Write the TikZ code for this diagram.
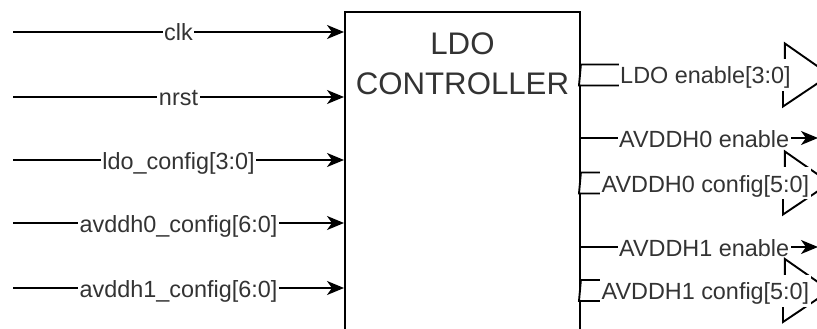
\documentclass[tikz,border=0pt]{standalone}
\usepackage{fontspec}
\setmainfont{Liberation Sans}
\usetikzlibrary{arrows.meta,calc}
\begin{document}
\begin{tikzpicture}[x=1pt,y=-1pt,
  wire/.style={line width=1.9pt, draw=black},
  sig/.style={wire, -{Stealth[length=17pt,width=14pt,inset=5pt]}},
  lbl/.style={fill=white, text=black!80, font=\fontsize{23.4}{28}\selectfont,
    inner xsep=1.5pt, inner ysep=3pt, text height=22pt, text depth=4pt},
  titletext/.style={text=black!80, font=\fontsize{31.2}{37}\selectfont,
    inner sep=0pt, anchor=base},
  bus/.style={wire, line join=miter, fill=white}]
\useasboundingbox (0,0) rectangle (817,329);
\clip (0,0) rectangle (817,329);

% controller block
\node[wire, draw, fill=white, anchor=north west, inner sep=0pt,
      minimum width=235pt, minimum height=340pt] (ctl) at (344,11) {};
\node[titletext] (tA) at ($(ctl.north)+(0,44)$) {LDO};
\node[titletext] (tB) at ($(ctl.north)+(0,84)$) {CONTROLLER};

% inputs
\coordinate (i1) at (13,32);
\coordinate (i2) at (13,97);
\coordinate (i3) at (13,160);
\coordinate (i4) at (13,223);
\coordinate (i5) at (13,288);
\draw[sig] (i1) -- (ctl.west |- i1) node[lbl, midway] (li1) {clk};
\draw[sig] (i2) -- (ctl.west |- i2) node[lbl, midway] (li2) {nrst};
\draw[sig] (i3) -- (ctl.west |- i3) node[lbl, midway] (li3) {ldo\_config[3:0]};
\draw[sig] (i4) -- (ctl.west |- i4) node[lbl, midway] (li4) {avddh0\_config[6:0]};
\draw[sig] (i5) -- (ctl.west |- i5) node[lbl, midway] (li5) {avddh1\_config[6:0]};

% single-bit outputs
\coordinate (e1) at (818,138);
\coordinate (e2) at (818,247);
\draw[sig] (ctl.east |- e1) -- (e1) node[lbl, pos=0.52] (le1) {AVDDH0 enable};
\draw[sig] (ctl.east |- e2) -- (e2) node[lbl, pos=0.52] (le2) {AVDDH1 enable};

% bus outputs (wide arrows)
\coordinate (b1) at (830,75);
\coordinate (b2) at (830,183);
\coordinate (b3) at (830,290.5);
\foreach \b in {b1,b2,b3} {
  \draw[bus] (ctl.east |- \b) ++(0,-10.5) -- ++(204,0) -- ++(0,-21)
    -- (\b) -- ++(-47,31.5) -- ++(0,-21) -- ++(-204,0) -- cycle;
}
\node[lbl] (lb1) at ($(ctl.east |- b1)!0.5!(b1)$) {LDO enable[3:0]};
\node[lbl] (lb2) at ($(ctl.east |- b2)!0.5!(b2)$) {AVDDH0 config[5:0]};
\node[lbl] (lb3) at ($(ctl.east |- b3)!0.5!(b3)$) {AVDDH1 config[5:0]};
\end{tikzpicture}
\end{document}
